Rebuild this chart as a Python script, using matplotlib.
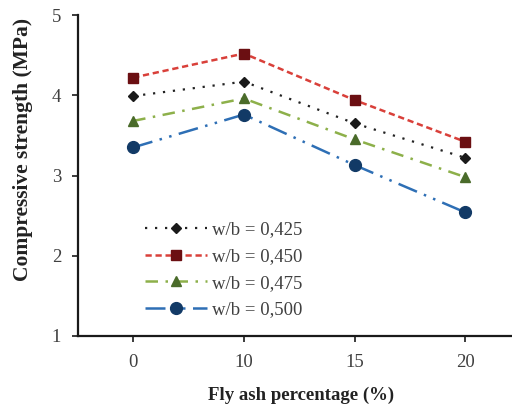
import matplotlib
matplotlib.use("Agg")
import matplotlib.pyplot as plt
import numpy as np

# fly ash percentage categories
fly_ash = ["0", "10", "15", "20"]

wb_0425 = [3.99, 4.17, 3.65, 3.22]
wb_0450 = [4.22, 4.52, 3.94, 3.42]
wb_0475 = [3.68, 3.96, 3.45, 2.98]
wb_0500 = [3.35, 3.76, 3.13, 2.54]

labels = ["w/b = 0,425", "w/b = 0,450", "w/b = 0,475", "w/b = 0,500"]

plt.rcParams["font.family"] = ["Liberation Serif", "DejaVu Serif"]

fig = plt.figure(figsize=(5.12, 4.09), dpi=100)
ax = fig.add_axes([0.152, 0.1785, 0.865, 0.7848])

x = np.arange(len(fly_ash))

ax.plot(x, wb_0425, color="#222222", linestyle=(0, (1, 3.5)), linewidth=1.6,
        marker="D", markersize=5.5, markerfacecolor="#1a1a1a", markeredgecolor="#1a1a1a",
        label=labels[0])
ax.plot(x, wb_0450, color="#d9403a", linestyle=(0, (2.5, 1.5)), linewidth=1.8,
        marker="s", markersize=7.5, markerfacecolor="#6b0f12", markeredgecolor="#6b0f12",
        label=labels[1])
ax.plot(x, wb_0475, color="#8db04a", linestyle=(0, (5, 3, 1, 3)), linewidth=1.8,
        marker="^", markersize=7.5, markerfacecolor="#4a6b2a", markeredgecolor="#4a6b2a",
        label=labels[2])
ax.plot(x, wb_0500, color="#2e6fb5", linestyle=(0, (8, 3, 1, 3, 1, 3)), linewidth=1.8,
        marker="o", markersize=8.5, markerfacecolor="#123a66", markeredgecolor="#123a66",
        label=labels[3])

ax.set_xlim(-0.5, 3.5)
ax.set_ylim(1, 5)
ax.set_xticks(x)
ax.set_xticklabels(fly_ash)
ax.set_yticks([1, 2, 3, 4, 5])

for side in ["top", "right"]:
    ax.spines[side].set_visible(False)
for side in ["left", "bottom"]:
    ax.spines[side].set_linewidth(1.6)
    ax.spines[side].set_color("#1a1a1a")

ax.tick_params(axis="both", direction="out", length=4, width=1.2, color="#1a1a1a",
               labelsize=13.5, labelcolor="#404040")
ax.tick_params(axis="y", pad=8)
ax.tick_params(axis="x", pad=9)

ax.set_xlabel("Fly ash percentage (%)", fontsize=13.5, fontweight="bold",
              color="#222222")
ax.xaxis.set_label_coords(0.503, -0.158)
ax.set_ylabel("Compressive strength (MPa)", fontsize=15.5, fontweight="bold",
              color="#222222")
ax.yaxis.set_label_coords(-0.1016, 0.58)

ax.legend(loc="center left", bbox_to_anchor=(0.151, 0.2056), frameon=False,
          fontsize=13.5, handlelength=3.3, handletextpad=0.3, labelspacing=0.51,
          labelcolor="#404040", borderaxespad=0, borderpad=0)

fig.savefig("out.png", dpi=100)
